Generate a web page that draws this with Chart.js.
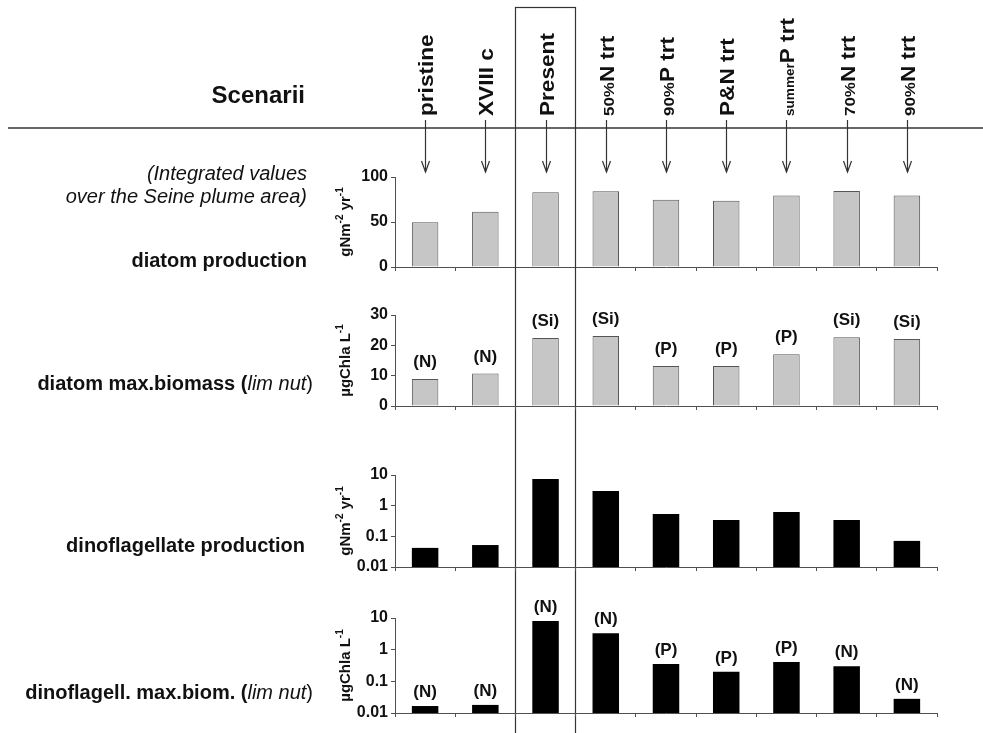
<!DOCTYPE html>
<html><head><meta charset="utf-8">
<script src="https://cdn.jsdelivr.net/npm/chart.js@4.4.1/dist/chart.umd.min.js"></script>
<style>
html,body{margin:0;padding:0;background:#fff;}
#wrap{position:relative;width:983px;height:733px;overflow:hidden;background:#fff;}
canvas{position:absolute;left:0;top:0;}
</style></head><body>
<div id="wrap">
<canvas id="c1" width="983" height="733"></canvas>
<canvas id="c2" width="983" height="733"></canvas>
<canvas id="c3" width="983" height="733"></canvas>
<canvas id="c4" width="983" height="733"></canvas>
</div>
<script>
// ---------- DATA ----------
const categories = ['pristine', 'XVIII c', 'Present', '50%N trt', '90%P trt', 'P&N trt', 'summerP trt', '70%N trt', '90%N trt'];
const categoryPrefix = ['', '', '', '50%', '90%', '', 'summer', '70%', '90%'];
const categoryMain = ['pristine', 'XVIII c', 'Present', 'N trt', 'P trt', 'P&N trt', 'P trt', 'N trt', 'N trt'];
const diatomProduction = [49.6, 61.4, 83.1, 84.2, 74.6, 73.5, 79.4, 84.4, 79.4];
const diatomMaxBiomass = [8.9, 10.7, 22.4, 23.1, 13.2, 13.2, 17.1, 22.7, 22.1];
const diatomLimNut = ['N', 'N', 'Si', 'Si', 'P', 'P', 'P', 'Si', 'Si'];
const dinoProduction = [0.042, 0.052, 7.4, 3.0, 0.53, 0.34, 0.62, 0.34, 0.071];
const dinoMaxBiomass = [0.0166, 0.018, 8.0, 3.3, 0.35, 0.20, 0.41, 0.30, 0.028];
const dinoLimNut = ['N', 'N', 'N', 'N', 'P', 'P', 'P', 'N', 'N'];
const linTicks1 = [0, 50, 100];
const linTicks2 = [0, 10, 20, 30];
const logTicks = [0.01, 0.1, 1, 10];
const presentIndex = 2;

// ---------- LAYOUT / STYLE ----------
const W = 983, H = 733, PLOT_LEFT = 395, PLOT_RIGHT = 937, XH = 6;
const FONT = '"Liberation Sans", Arial, Helvetica, sans-serif';
const AX = '#505050', INK = '#111';

function drawRich(ctx, segs, x, y, align) {
  let total = 0;
  segs.forEach(s => { ctx.font = s.f; s.w = ctx.measureText(s.t).width; total += s.w; });
  let cx = align === 'right' ? x - total : align === 'center' ? x - total / 2 : x;
  ctx.textAlign = 'left';
  ctx.textBaseline = 'alphabetic';
  segs.forEach(s => { ctx.font = s.f; ctx.fillText(s.t, cx, y + (s.dy || 0)); cx += s.w; });
}
function drawRichVertical(ctx, segs, x, y, align, base, stretch) {
  ctx.save();
  ctx.translate(x, y);
  ctx.rotate(-Math.PI / 2);
  if (stretch) ctx.scale(stretch, 1);
  drawRich(ctx, segs, 0, base, align);
  ctx.restore();
}
const B = n => 'bold ' + n + 'px ' + FONT;
const I = n => 'italic ' + n + 'px ' + FONT;
const R = n => n + 'px ' + FONT;

const unitsProd = [{t: 'gNm', f: B(15)}, {t: '-2', f: B(10), dy: -7}, {t: ' yr', f: B(15)}, {t: '-1', f: B(10), dy: -7}];
const unitsChl = [{t: 'µgChla L', f: B(15)}, {t: '-1', f: B(10), dy: -7}];

const headerPlugin = {
  id: 'header',
  afterDraw(chart) {
    const ctx = chart.ctx, xs = chart.scales.x;
    ctx.save();
    ctx.fillStyle = INK;
    ctx.strokeStyle = '#333';
    // horizontal separator
    ctx.lineWidth = 1.5;
    ctx.beginPath(); ctx.moveTo(8, 128); ctx.lineTo(W, 128); ctx.stroke();
    // category labels + arrows
    categories.forEach((c, i) => {
      const x = Math.round(xs.getPixelForValue(i)) + 0.5;
      const segs = [];
      if (categoryPrefix[i]) segs.push({t: categoryPrefix[i], f: B(categoryPrefix[i] === 'summer' ? 12 : 15)});
      segs.push({t: categoryMain[i], f: B(20)});
      drawRichVertical(ctx, segs, x, 116, 'left', 7, 1.13);
      ctx.lineWidth = 1.2;
      ctx.beginPath(); ctx.moveTo(x, 120); ctx.lineTo(x, 172); ctx.stroke();
      ctx.beginPath(); ctx.moveTo(x - 4, 161); ctx.lineTo(x, 172); ctx.lineTo(x + 4, 161); ctx.stroke();
    });
    // Present box
    const half = (xs.getPixelForValue(1) - xs.getPixelForValue(0)) / 2;
    const px = xs.getPixelForValue(presentIndex);
    ctx.lineWidth = 1.2;
    ctx.strokeRect(Math.round(px - half) + 0.5, 7.5, Math.round(2 * half), 740);
    // left texts
    ctx.fillStyle = INK;
    drawRich(ctx, [{t: 'Scenarii', f: B(24)}], 305, 103, 'right');
    drawRich(ctx, [{t: '(Integrated values', f: I(20)}], 307, 180, 'right');
    drawRich(ctx, [{t: 'over the Seine plume area)', f: I(20)}], 307, 203, 'right');
    drawRich(ctx, [{t: 'diatom production', f: B(20)}], 307, 267, 'right');
    drawRich(ctx, [{t: 'diatom max.biomass (', f: B(20)}, {t: 'lim nut', f: I(20)}, {t: ')', f: R(20)}], 313, 390, 'right');
    drawRich(ctx, [{t: 'dinoflagellate production', f: B(20)}], 305, 552, 'right');
    drawRich(ctx, [{t: 'dinoflagell. max.biom. (', f: B(20)}, {t: 'lim nut', f: I(20)}, {t: ')', f: R(20)}], 313, 699, 'right');
    ctx.restore();
  }
};

function makeAnnot(labels, off) {
  return {
    id: 'annot',
    afterDatasetsDraw(chart) {
      const ctx = chart.ctx;
      const meta = chart.getDatasetMeta(0);
      ctx.save();
      ctx.fillStyle = INK;
      ctx.font = B(17);
      ctx.textAlign = 'center';
      ctx.textBaseline = 'bottom';
      meta.data.forEach((bar, i) => ctx.fillText('(' + labels[i] + ')', bar.x, bar.y - off));
      ctx.restore();
    }
  };
}
function makeTitle(segs) {
  return {
    id: 'ytitle',
    afterDraw(chart) {
      const ctx = chart.ctx, a = chart.chartArea;
      ctx.save();
      ctx.fillStyle = INK;
      drawRichVertical(ctx, segs, 344, (a.top + a.bottom) / 2, 'center', 6);
      ctx.restore();
    }
  };
}

function panel(id, cfg) {
  const yScale = {
    type: cfg.log ? 'logarithmic' : 'linear',
    min: cfg.min, max: cfg.max,
    grid: {drawOnChartArea: false, drawTicks: true, tickLength: 4, color: AX, lineWidth: 1},
    border: {color: AX, width: 1},
    ticks: {font: {family: FONT, size: 16, weight: 'bold'}, color: INK, padding: 3,
            callback: v => String(v)},
    afterBuildTicks: s => { s.ticks = cfg.ticks.map(v => ({value: v})); },
    afterFit: s => { s.width = PLOT_LEFT; s.paddingTop = 0; s.paddingBottom = 0; }
  };
  return new Chart(document.getElementById(id), {
    type: 'bar',
    data: {labels: categories, datasets: [{
      data: cfg.values, backgroundColor: cfg.fill, borderColor: cfg.border, borderWidth: cfg.bw,
      barPercentage: 0.44, categoryPercentage: 1
    }]},
    options: {
      responsive: false, animation: false, devicePixelRatio: 1,
      layout: {padding: {left: 0, right: W - PLOT_RIGHT, top: cfg.top, bottom: H - cfg.bottom - XH}},
      plugins: {legend: {display: false}, tooltip: {enabled: false}},
      scales: {
        x: {type: 'category', offset: true,
            grid: {offset: true, drawOnChartArea: false, drawTicks: true, tickLength: 4, color: AX, lineWidth: 1},
            border: {color: AX, width: 1},
            ticks: {display: false},
            afterFit: s => { s.height = XH; s.paddingLeft = 0; s.paddingRight = 0; }},
        y: yScale
      }
    },
    plugins: cfg.plugins
  });
}

panel('c1', {values: diatomProduction, fill: '#c6c6c6', border: '#555', bw: 1, min: 0, max: 100, ticks: linTicks1,
  top: 177, bottom: 267, plugins: [headerPlugin, makeTitle(unitsProd)]});
panel('c2', {values: diatomMaxBiomass, fill: '#c6c6c6', border: '#555', bw: 1, min: 0, max: 30, ticks: linTicks2,
  top: 315, bottom: 406, plugins: [makeAnnot(diatomLimNut, 8), makeTitle(unitsChl)]});
panel('c3', {values: dinoProduction, fill: '#000', border: '#000', bw: 0, log: true, min: 0.01, max: 10, ticks: logTicks,
  top: 475, bottom: 567, plugins: [makeTitle(unitsProd)]});
panel('c4', {values: dinoMaxBiomass, fill: '#000', border: '#000', bw: 0, log: true, min: 0.01, max: 10, ticks: logTicks,
  top: 618, bottom: 713, plugins: [makeAnnot(dinoLimNut, 5), makeTitle(unitsChl)]});
</script>
</body></html>
